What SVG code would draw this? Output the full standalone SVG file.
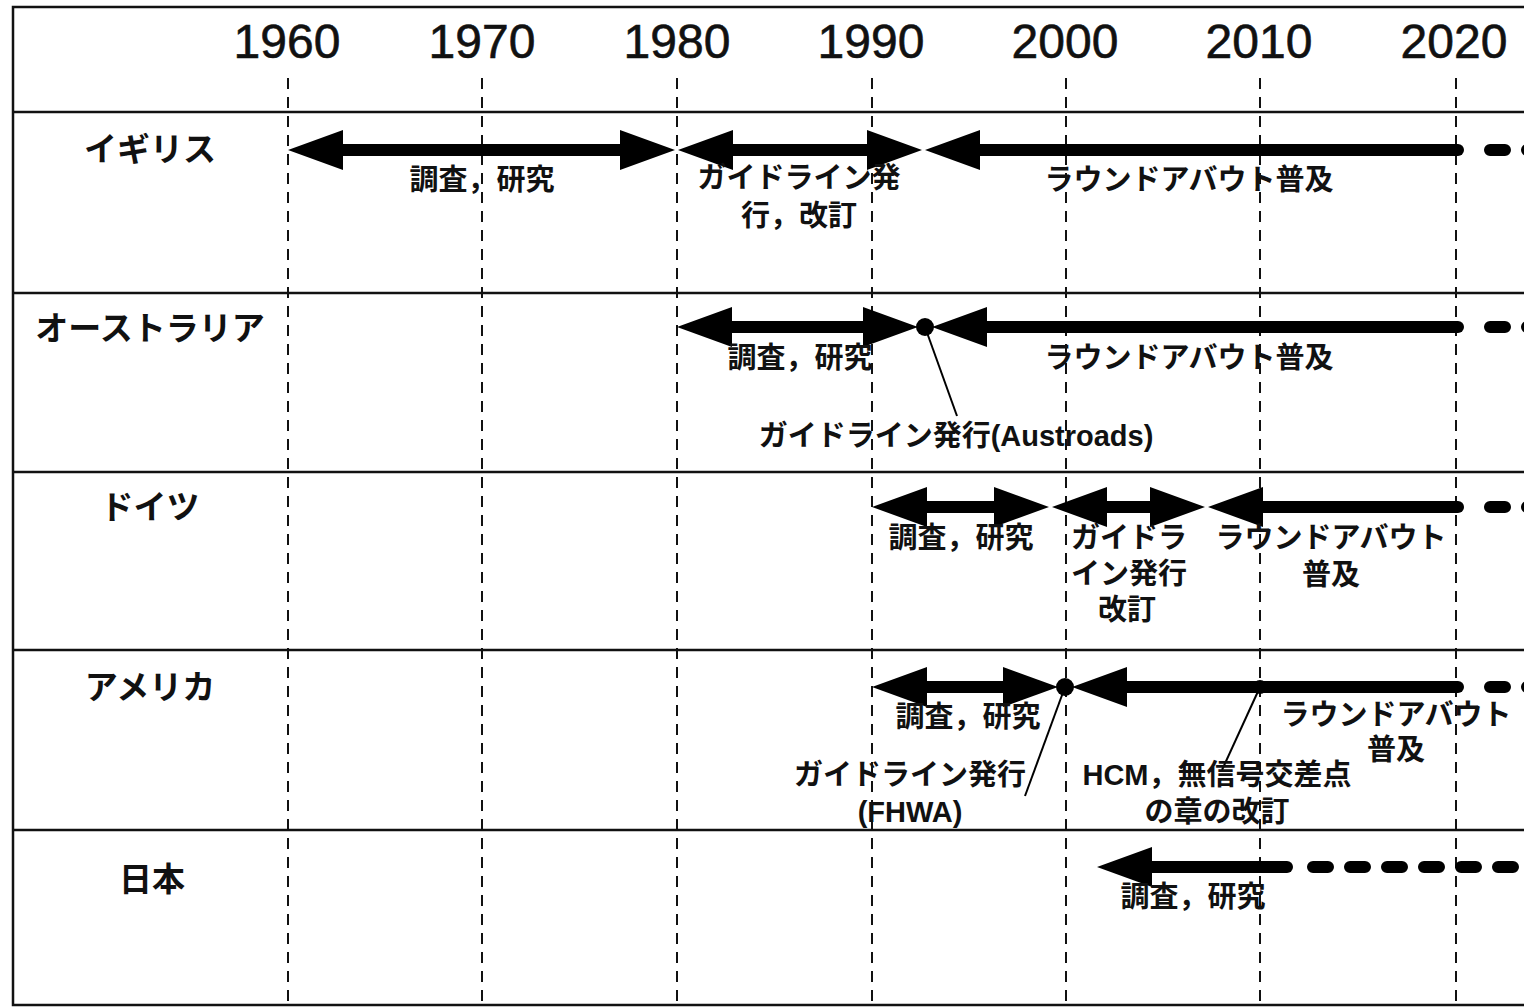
<svg xmlns="http://www.w3.org/2000/svg" width="1524" height="1008" viewBox="0 0 1524 1008">
<style>
.frame{fill:none;stroke:#111;stroke-width:2.5}
.row{stroke:#111;stroke-width:2.5}
.grid{stroke:#111;stroke-width:2;stroke-dasharray:11 8}
.year{font-family:"Liberation Sans",Arial,sans-serif;font-size:48px;fill:#111;text-anchor:middle;stroke:#111;stroke-width:0.6}
.country{font-family:"Noto Sans CJK JP",sans-serif;font-weight:bold;font-size:33px;fill:#111;text-anchor:middle}
.lbl{font-family:"Liberation Sans","Noto Sans CJK JP",sans-serif;font-weight:bold;font-size:29px;fill:#111;text-anchor:middle}
.shaft{stroke:#000;stroke-width:12;fill:none}
.shaftr{stroke:#000;stroke-width:12;fill:none;stroke-linecap:round}
.dots{stroke:#000;stroke-width:12;fill:none;stroke-linecap:round;stroke-dasharray:15 22}
.head{fill:#000}
.lead{stroke:#000;stroke-width:2;fill:none}
</style>
<defs>
<path id="hl" class="head" d="M0,0 L55,-20 L55,20 Z"/>
<path id="hr" class="head" d="M0,0 L-55,-20 L-55,20 Z"/>
</defs>
<rect width="1524" height="1008" fill="#fff"/>
<g id="table">
<path class="frame" d="M1524,7 H13 V1005 H1524"/>
<line class="row" x1="13" y1="112" x2="1524" y2="112"/>
<line class="row" x1="13" y1="293" x2="1524" y2="293"/>
<line class="row" x1="13" y1="472" x2="1524" y2="472"/>
<line class="row" x1="13" y1="650" x2="1524" y2="650"/>
<line class="row" x1="13" y1="830" x2="1524" y2="830"/>
</g>
<g id="gridlines">
<line class="grid" x1="288" y1="78" x2="288" y2="1008"/>
<line class="grid" x1="482" y1="78" x2="482" y2="1008"/>
<line class="grid" x1="677" y1="78" x2="677" y2="1008"/>
<line class="grid" x1="872" y1="78" x2="872" y2="1008"/>
<line class="grid" x1="1066" y1="78" x2="1066" y2="1008"/>
<line class="grid" x1="1260" y1="78" x2="1260" y2="1008"/>
<line class="grid" x1="1456" y1="78" x2="1456" y2="1008"/>
</g>
<g id="years">
<text class="year" x="287" y="58">1960</text>
<text class="year" x="482" y="58">1970</text>
<text class="year" x="677" y="58">1980</text>
<text class="year" x="871" y="58">1990</text>
<text class="year" x="1065" y="58">2000</text>
<text class="year" x="1259" y="58">2010</text>
<text class="year" x="1454" y="58">2020</text>
</g>
<g id="countries">
<text class="country" x="150" y="161">イギリス</text>
<text class="country" x="150" y="340">オーストラリア</text>
<text class="country" x="150" y="519">ドイツ</text>
<text class="country" x="150" y="699">アメリカ</text>
<text class="country" x="152" y="891">日本</text>
</g>
<g id="connectors">
<g id="uk-arrows">
<line class="shaft" x1="335" y1="150" x2="628" y2="150"/>
<use href="#hl" x="288" y="150"/><use href="#hr" x="675" y="150"/>
<line class="shaft" x1="725" y1="150" x2="875" y2="150"/>
<use href="#hl" x="678" y="150"/><use href="#hr" x="922" y="150"/>
<line class="shaftr" x1="970" y1="150" x2="1458" y2="150"/>
<use href="#hl" x="925" y="150"/>
<line class="dots" x1="1490" y1="150" x2="1530" y2="150"/>
</g>
<g id="au-arrows">
<line class="shaft" x1="725" y1="327" x2="872" y2="327"/>
<use href="#hl" x="677" y="327"/><use href="#hr" x="918" y="327"/>
<circle cx="925" cy="327" r="9" fill="#000"/>
<line class="shaftr" x1="980" y1="327" x2="1458" y2="327"/>
<use href="#hl" x="932" y="327"/>
<line class="dots" x1="1490" y1="327" x2="1530" y2="327"/>
<line class="lead" x1="925" y1="327" x2="957" y2="416"/>
</g>
<g id="de-arrows">
<line class="shaft" x1="920" y1="507" x2="1000" y2="507"/>
<use href="#hl" x="872" y="507"/><use href="#hr" x="1049" y="507"/>
<line class="shaft" x1="1100" y1="507" x2="1160" y2="507"/>
<use href="#hl" x="1052" y="507"/><use href="#hr" x="1205" y="507"/>
<line class="shaftr" x1="1255" y1="507" x2="1458" y2="507"/>
<use href="#hl" x="1208" y="507"/>
<line class="dots" x1="1490" y1="507" x2="1530" y2="507"/>
</g>
<g id="us-arrows">
<line class="shaft" x1="920" y1="687" x2="1010" y2="687"/>
<use href="#hl" x="872" y="687"/><use href="#hr" x="1058" y="687"/>
<circle cx="1065" cy="687" r="9" fill="#000"/>
<line class="shaftr" x1="1120" y1="687" x2="1458" y2="687"/>
<use href="#hl" x="1072" y="687"/>
<circle cx="1260" cy="687" r="7" fill="#000"/>
<line class="dots" x1="1490" y1="687" x2="1530" y2="687"/>
<line class="lead" x1="1065" y1="687" x2="1025" y2="796"/>
<line class="lead" x1="1260" y1="687" x2="1222" y2="770"/>
</g>
<g id="jp-arrows">
<line class="shaftr" x1="1145" y1="867" x2="1287" y2="867"/>
<use href="#hl" x="1097" y="867"/>
<line class="dots" x1="1313" y1="867" x2="1530" y2="867"/>
</g>
</g>
<g id="uk-labels">
<text class="lbl" x="482" y="190">調査，研究</text>
<text class="lbl" x="799" y="188">ガイドライン発</text>
<text class="lbl" x="799" y="226">行，改訂</text>
<text class="lbl" x="1189" y="190">ラウンドアバウト普及</text>
</g>
<g id="au-labels">
<text class="lbl" x="800" y="368">調査，研究</text>
<text class="lbl" x="1189" y="368">ラウンドアバウト普及</text>
<text class="lbl" x="956" y="446">ガイドライン発行(Austroads)</text>
</g>
<g id="de-labels">
<text class="lbl" x="961" y="548">調査，研究</text>
<text class="lbl" x="1129" y="548">ガイドラ</text>
<text class="lbl" x="1129" y="584">イン発行</text>
<text class="lbl" x="1127" y="620">改訂</text>
<text class="lbl" x="1331" y="548">ラウンドアバウト</text>
<text class="lbl" x="1331" y="585">普及</text>
</g>
<g id="us-labels">
<text class="lbl" x="968" y="727">調査，研究</text>
<text class="lbl" x="910" y="785">ガイドライン発行</text>
<text class="lbl" x="910" y="822">(FHWA)</text>
<text class="lbl" x="1217" y="785">HCM，無信号交差点</text>
<text class="lbl" x="1217" y="822">の章の改訂</text>
<text class="lbl" x="1396" y="725">ラウンドアバウト</text>
<text class="lbl" x="1396" y="760">普及</text>
</g>
<g id="jp-labels">
<text class="lbl" x="1193" y="907">調査，研究</text>
</g>
</svg>
